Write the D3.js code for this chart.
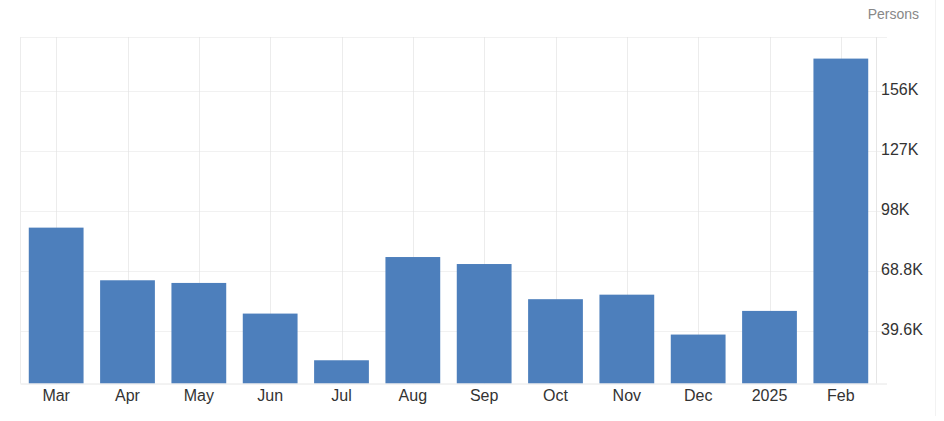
<!DOCTYPE html>
<html>
<head>
<meta charset="utf-8">
<script src="https://cdn.jsdelivr.net/npm/d3@7"></script>
<style>
  body { margin: 0; background: #fff; }
  svg { display: block; font-family: "Liberation Sans", Arial, sans-serif; }
</style>
</head>
<body>
<div id="chart"></div>
<script>
// Monthly values in persons
const months = ['Mar', 'Apr', 'May', 'Jun', 'Jul', 'Aug', 'Sep', 'Oct', 'Nov', 'Dec', '2025', 'Feb'];
const values = [90000, 64400, 63100, 48200, 25500, 75700, 72300, 55200, 57400, 38000, 49500, 172200];

// Right-hand axis ticks and their printed labels
const tickValues = [39600, 68800, 98000, 127200, 156400];
const tickLabels = ['39.6K', '68.8K', '98K', '127K', '156K'];

const width = 944;
const height = 421;
const plot = { left: 20.5, right: 876.5, top: 37, bottom: 383.5 };

const svg = d3.select('#chart')
  .append('svg')
  .attr('width', width)
  .attr('height', height);

const x = d3.scaleBand()
  .domain(months)
  .range([plot.left, plot.right])
  .paddingInner(0.232)
  .paddingOuter(0.116);

const y = d3.scaleLinear()
  .domain([14200, 182700])
  .range([plot.bottom, plot.top]);

// faint frame line on the far right
svg.append('line')
  .attr('x1', 935.5).attr('x2', 935.5)
  .attr('y1', 0).attr('y2', 416)
  .attr('stroke', '#f2f2f2');

// vertical grid through band centres
svg.append('g')
  .selectAll('line')
  .data(months)
  .enter().append('line')
  .attr('x1', d => Math.round(x(d) + x.bandwidth() / 2) + 0.5)
  .attr('x2', d => Math.round(x(d) + x.bandwidth() / 2) + 0.5)
  .attr('y1', plot.top)
  .attr('y2', plot.bottom)
  .attr('stroke', '#ececec');

// horizontal grid (dotted), plus top border
svg.append('g')
  .selectAll('line')
  .data(tickValues)
  .enter().append('line')
  .attr('x1', plot.left)
  .attr('x2', 887)
  .attr('y1', d => Math.round(y(d)) + 0.5)
  .attr('y2', d => Math.round(y(d)) + 0.5)
  .attr('stroke', '#e3e3e3')
  .attr('stroke-dasharray', '1,1');

svg.append('line')
  .attr('x1', plot.left).attr('x2', 887)
  .attr('y1', plot.top + 0.5).attr('y2', plot.top + 0.5)
  .attr('stroke', '#e3e3e3')
  .attr('stroke-dasharray', '1,1');

// left border and right axis line
svg.append('line')
  .attr('x1', plot.left).attr('x2', plot.left)
  .attr('y1', plot.top).attr('y2', plot.bottom)
  .attr('stroke', '#ececec');
svg.append('line')
  .attr('x1', plot.right).attr('x2', plot.right)
  .attr('y1', plot.top).attr('y2', plot.bottom)
  .attr('stroke', '#e6e6e6');

// bars
svg.append('g')
  .selectAll('rect')
  .data(values)
  .enter().append('rect')
  .attr('x', (d, i) => x(months[i]))
  .attr('y', d => y(d))
  .attr('width', x.bandwidth())
  .attr('height', d => plot.bottom - y(d))
  .attr('fill', '#4d7fbc');

// baseline
svg.append('line')
  .attr('x1', plot.left).attr('x2', 887)
  .attr('y1', plot.bottom + 0.5).attr('y2', plot.bottom + 0.5)
  .attr('stroke', '#e6e6e6');

// x axis labels
svg.append('g')
  .selectAll('text')
  .data(months)
  .enter().append('text')
  .attr('x', d => x(d) + x.bandwidth() / 2)
  .attr('y', 401)
  .attr('text-anchor', 'middle')
  .attr('font-size', 16)
  .attr('fill', '#333')
  .text(d => d);

// y axis labels on the right
svg.append('g')
  .selectAll('text')
  .data(tickValues)
  .enter().append('text')
  .attr('x', 881)
  .attr('y', d => y(d) + 3.5)
  .attr('font-size', 16)
  .attr('fill', '#333')
  .text((d, i) => tickLabels[i]);

// unit label
svg.append('text')
  .attr('x', 919)
  .attr('y', 19)
  .attr('text-anchor', 'end')
  .attr('font-size', 14)
  .attr('fill', '#888')
  .text('Persons');
</script>
</body>
</html>
